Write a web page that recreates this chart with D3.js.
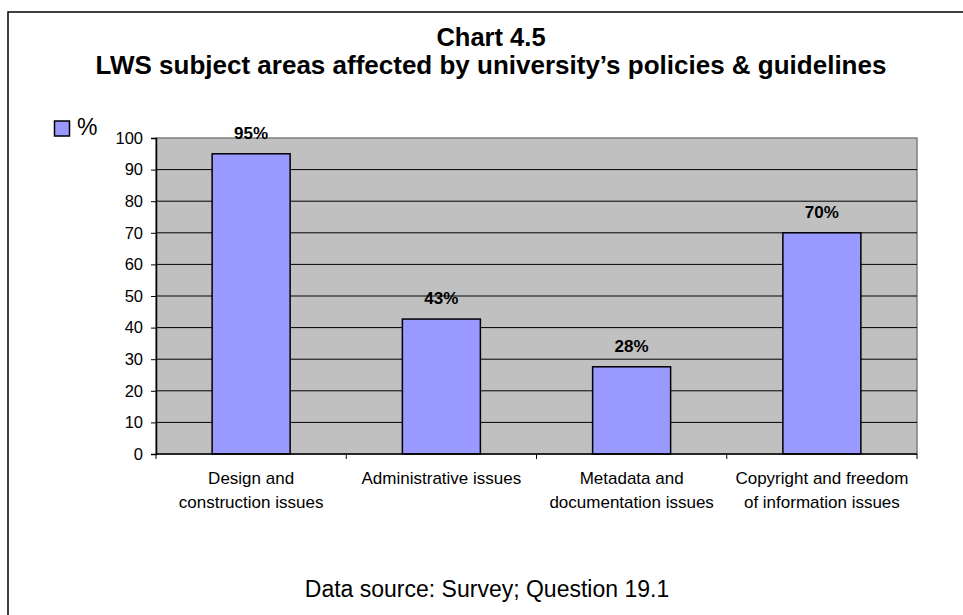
<!DOCTYPE html>
<html>
<head>
<meta charset="utf-8">
<script src="https://cdn.jsdelivr.net/npm/d3@7"></script>
<style>
  body { margin: 0; background: #fff; }
  text { font-family: Arial, "Liberation Sans", sans-serif; }
</style>
</head>
<body>
<div id="chart"></div>
<script>
// chart data
var categories = [
    ["Design and", "construction issues"],
    ["Administrative issues"],
    ["Metadata and", "documentation issues"],
    ["Copyright and freedom", "of information issues"]
];
var values = [95, 42.7, 27.6, 70];
var valueLabels = ["95%", "43%", "28%", "70%"];
var yTicks = [0, 10, 20, 30, 40, 50, 60, 70, 80, 90, 100];
var seriesName = "%";

var width = 963, height = 615;
var plot = { left: 156, right: 917, top: 138, bottom: 454 };

var svg = d3.select("#chart").append("svg")
    .attr("width", width)
    .attr("height", height);

// outer frame
svg.append("rect")
    .attr("x", 8).attr("y", 12)
    .attr("width", 1000).attr("height", 700)
    .attr("fill", "#fff")
    .attr("stroke", "#000")
    .attr("stroke-width", 1.5);

// titles
svg.append("text")
    .attr("x", 491).attr("y", 45.5)
    .attr("text-anchor", "middle")
    .style("font-size", "25.5px").style("font-weight", "bold")
    .text("Chart 4.5");
svg.append("text")
    .attr("x", 491).attr("y", 74)
    .attr("text-anchor", "middle")
    .style("font-size", "26px").style("font-weight", "bold")
    .text("LWS subject areas affected by university\u2019s policies & guidelines");

var x = d3.scaleBand()
    .domain(d3.range(categories.length))
    .range([plot.left, plot.right])
    .paddingInner(0.59)
    .paddingOuter(0.295);

var xGroup = d3.scaleBand()
    .domain(d3.range(categories.length))
    .range([plot.left, plot.right])
    .padding(0);

var y = d3.scaleLinear()
    .domain([0, 100])
    .range([plot.bottom, plot.top]);

// plot background
svg.append("rect")
    .attr("x", plot.left).attr("y", plot.top)
    .attr("width", plot.right - plot.left)
    .attr("height", plot.bottom - plot.top)
    .attr("fill", "#c0c0c0")
    .attr("stroke", "#808080")
    .attr("stroke-width", 1.5);

// gridlines
svg.append("g")
    .selectAll("line")
    .data(yTicks.filter(function (d) { return d > 0 && d < 100; }))
    .enter().append("line")
    .attr("x1", plot.left).attr("x2", plot.right)
    .attr("y1", function (d) { return y(d); })
    .attr("y2", function (d) { return y(d); })
    .attr("stroke", "#000")
    .attr("stroke-width", 1);

// bars
svg.append("g")
    .selectAll("rect")
    .data(values)
    .enter().append("rect")
    .attr("x", function (d, i) { return x(i); })
    .attr("y", function (d) { return y(d); })
    .attr("width", x.bandwidth())
    .attr("height", function (d) { return y(0) - y(d); })
    .attr("fill", "#9999ff")
    .attr("stroke", "#000")
    .attr("stroke-width", 1.5);

// value labels
svg.append("g")
    .selectAll("text")
    .data(values)
    .enter().append("text")
    .attr("x", function (d, i) { return x(i) + x.bandwidth() / 2; })
    .attr("y", function (d) { return y(d) - 15; })
    .attr("text-anchor", "middle")
    .style("font-size", "17px").style("font-weight", "bold")
    .text(function (d, i) { return valueLabels[i]; });

// y axis
var yAxis = svg.append("g")
    .attr("transform", "translate(" + plot.left + ",0)")
    .call(d3.axisLeft(y).tickValues(yTicks).tickSize(5).tickPadding(8));
yAxis.select(".domain").attr("stroke", "#000").attr("stroke-width", 1.5);
yAxis.selectAll(".tick line").attr("stroke", "#000");
yAxis.selectAll(".tick text")
    .style("font-size", "16.5px")
    .attr("fill", "#000")
    .attr("font-family", null);

// x axis line and ticks between categories
svg.append("line")
    .attr("x1", plot.left).attr("x2", plot.right)
    .attr("y1", plot.bottom).attr("y2", plot.bottom)
    .attr("stroke", "#000").attr("stroke-width", 1.5);

svg.append("g")
    .selectAll("line")
    .data(d3.range(categories.length + 1))
    .enter().append("line")
    .attr("x1", function (i) { return plot.left + i * xGroup.step(); })
    .attr("x2", function (i) { return plot.left + i * xGroup.step(); })
    .attr("y1", plot.bottom).attr("y2", plot.bottom + 5)
    .attr("stroke", "#000");

// category labels
var catLabels = svg.append("g")
    .selectAll("text")
    .data(categories)
    .enter().append("text")
    .attr("x", function (d, i) { return x(i) + x.bandwidth() / 2; })
    .attr("y", 484)
    .attr("text-anchor", "middle")
    .style("font-size", "17px");
catLabels.selectAll("tspan")
    .data(function (d) { return d; })
    .enter().append("tspan")
    .attr("x", function () { return d3.select(this.parentNode).attr("x"); })
    .attr("dy", function (d, j) { return j === 0 ? 0 : 23.5; })
    .text(function (d) { return d; });

// legend
svg.append("rect")
    .attr("x", 54.5).attr("y", 121)
    .attr("width", 15).attr("height", 15)
    .attr("fill", "#9999ff")
    .attr("stroke", "#000")
    .attr("stroke-width", 1.5);
svg.append("text")
    .attr("x", 77).attr("y", 135)
    .style("font-size", "23px")
    .text(seriesName);

// footer
svg.append("text")
    .attr("x", 487).attr("y", 597)
    .attr("text-anchor", "middle")
    .style("font-size", "23px")
    .text("Data source: Survey; Question 19.1");
</script>
</body>
</html>
